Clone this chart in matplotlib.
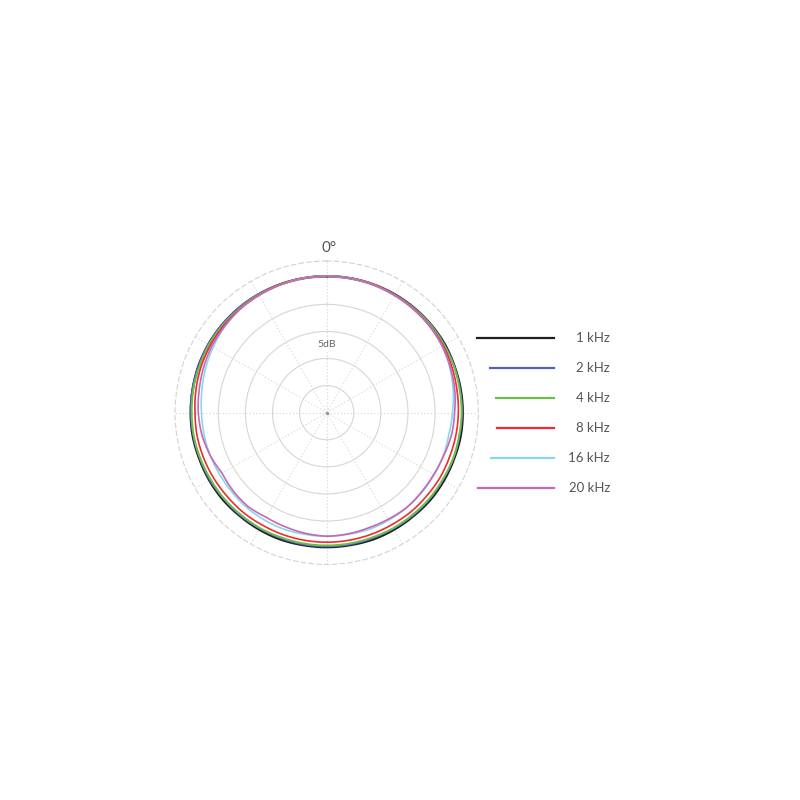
import numpy as np
import matplotlib
matplotlib.use("Agg")
import matplotlib.pyplot as plt

plt.rcParams['font.family'] = ['Lato', 'DejaVu Sans']

# angles in degrees, 0 = front, clockwise
angles_deg = list(range(0, 360, 10))

freq_labels = ["1 kHz", "2 kHz", "4 kHz", "8 kHz", "16 kHz", "20 kHz"]

resp_1k = [25.2, 25.2, 25.2, 25.2, 25.2, 25.2, 25.2, 25.1, 25.1, 25.1,
           25.1, 25.0, 25.0, 25.0, 24.9, 24.9, 24.9, 24.8, 24.8, 24.8,
           24.9, 24.9, 24.9, 25.0, 25.0, 25.0, 25.1, 25.1, 25.1, 25.2,
           25.2, 25.2, 25.2, 25.2, 25.2, 25.2]
resp_2k = [25.2, 25.2, 25.2, 25.2, 25.2, 25.2, 25.1, 25.1, 25.0, 25.0,
           24.9, 24.9, 24.8, 24.8, 24.8, 24.7, 24.7, 24.7, 24.7, 24.7,
           24.7, 24.7, 24.8, 24.8, 24.9, 24.9, 25.0, 25.1, 25.2, 25.2,
           25.3, 25.3, 25.3, 25.3, 25.2, 25.2]
resp_4k = [25.2, 25.2, 25.2, 25.1, 25.1, 25.1, 25.0, 25.0, 24.9, 24.9,
           24.8, 24.8, 24.7, 24.7, 24.6, 24.6, 24.5, 24.5, 24.5, 24.5,
           24.5, 24.6, 24.6, 24.7, 24.7, 24.8, 24.9, 24.9, 25.0, 25.0,
           25.1, 25.1, 25.1, 25.2, 25.2, 25.2]
resp_8k = [25.2, 25.2, 25.2, 25.1, 25.0, 24.9, 24.8, 24.6, 24.4, 24.3,
           24.2, 24.1, 24.1, 24.0, 24.0, 23.9, 23.9, 23.9, 23.9, 23.9,
           23.9, 23.9, 24.0, 24.0, 24.1, 24.2, 24.3, 24.3, 24.5, 24.7,
           24.8, 24.9, 25.0, 25.1, 25.2, 25.2]
resp_16k = [25.2, 25.2, 25.1, 25.0, 24.9, 24.8, 24.6, 24.2, 23.7, 23.2,
            22.9, 22.9, 22.9, 22.9, 22.9, 22.9, 22.9, 22.8, 22.8, 22.8,
            22.9, 22.9, 22.9, 22.8, 22.8, 22.9, 23.0, 23.1, 23.4, 23.8,
            24.2, 24.6, 24.9, 25.0, 25.1, 25.2]
resp_20k = [25.2, 25.2, 25.1, 25.0, 24.9, 24.8, 24.6, 24.3, 24.0, 23.6,
            23.4, 23.0, 22.8, 22.8, 22.9, 22.7, 22.6, 22.7, 22.8, 22.6,
            22.4, 22.3, 22.6, 22.5, 22.3, 22.9, 23.4, 23.7, 23.9, 24.2,
            24.5, 24.7, 24.9, 25.0, 25.1, 25.2]

responses = [resp_1k, resp_2k, resp_4k, resp_8k, resp_16k, resp_20k]
colors = ["#1e1e1e", "#4f5fc4", "#6cc04a", "#ee2b2f", "#86d9e8", "#c966b6"]
widths = [1.7, 1.2, 1.4, 1.2, 1.2, 1.2]

ring_values = [5, 10, 15, 20, 25]
r_max = 28

# legend line start positions (pixels), end at a common x
legend_starts = [477, 490, 496, 497, 491, 478]


def main():
    fig = plt.figure(figsize=(8, 8), dpi=100)
    ax = fig.add_axes([0.21875, 0.2945, 0.37925, 0.37925], projection='polar')
    ax.set_theta_zero_location('N')
    ax.set_theta_direction(-1)
    ax.set_ylim(0, r_max)

    ax.set_xticks(np.deg2rad(np.arange(0, 360, 30)))
    ax.set_yticks(ring_values)
    ax.set_xticklabels([])
    ax.set_yticklabels([])
    ax.tick_params(length=0)
    ax.xaxis.grid(True, color="#dadada", linestyle=(0, (1.2, 1.8)), linewidth=0.8)
    ax.yaxis.grid(True, color="#d6d6d6", linestyle='-', linewidth=0.8)
    ax.spines['polar'].set_linestyle((0, (4, 3)))
    ax.spines['polar'].set_color("#d2d2d2")
    ax.spines['polar'].set_linewidth(0.8)

    theta = np.deg2rad(angles_deg + [360])
    for resp, col, lw in zip(responses, colors, widths):
        r = resp + [resp[0]]
        line, = ax.plot(theta, r, color=col, linewidth=lw, zorder=3)
        # draw each segment as a polar curve rather than a chord
        line.get_path()._interpolation_steps = 12

    ax.plot([0], [0], marker='o', markersize=1.5, color="#999999", zorder=4)

    ax.text(0, 12.5, "5dB", ha='center', va='center', fontsize=7.5, color="#666666",
            bbox=dict(boxstyle='round,pad=0.25', fc='white', ec='none'), zorder=5)

    # overlay for title and legend
    ov = fig.add_axes([0, 0, 1, 1])
    ov.set_xlim(0, 800)
    ov.set_ylim(800, 0)
    ov.axis('off')
    ov.patch.set_alpha(0)

    ov.text(329, 248, "0°", ha='center', va='center', fontsize=11, color="#555555")

    for i, (lab, col, x0) in enumerate(zip(freq_labels, colors, legend_starts)):
        y = 338 + i * 30
        ov.plot([x0, 554], [y, y], color=col, linewidth=1.6)
        ov.text(610, y, lab, ha='right', va='center', fontsize=9.5, color="#555555")

    fig.savefig("out.png", dpi=100)


if __name__ == "__main__":
    main()
